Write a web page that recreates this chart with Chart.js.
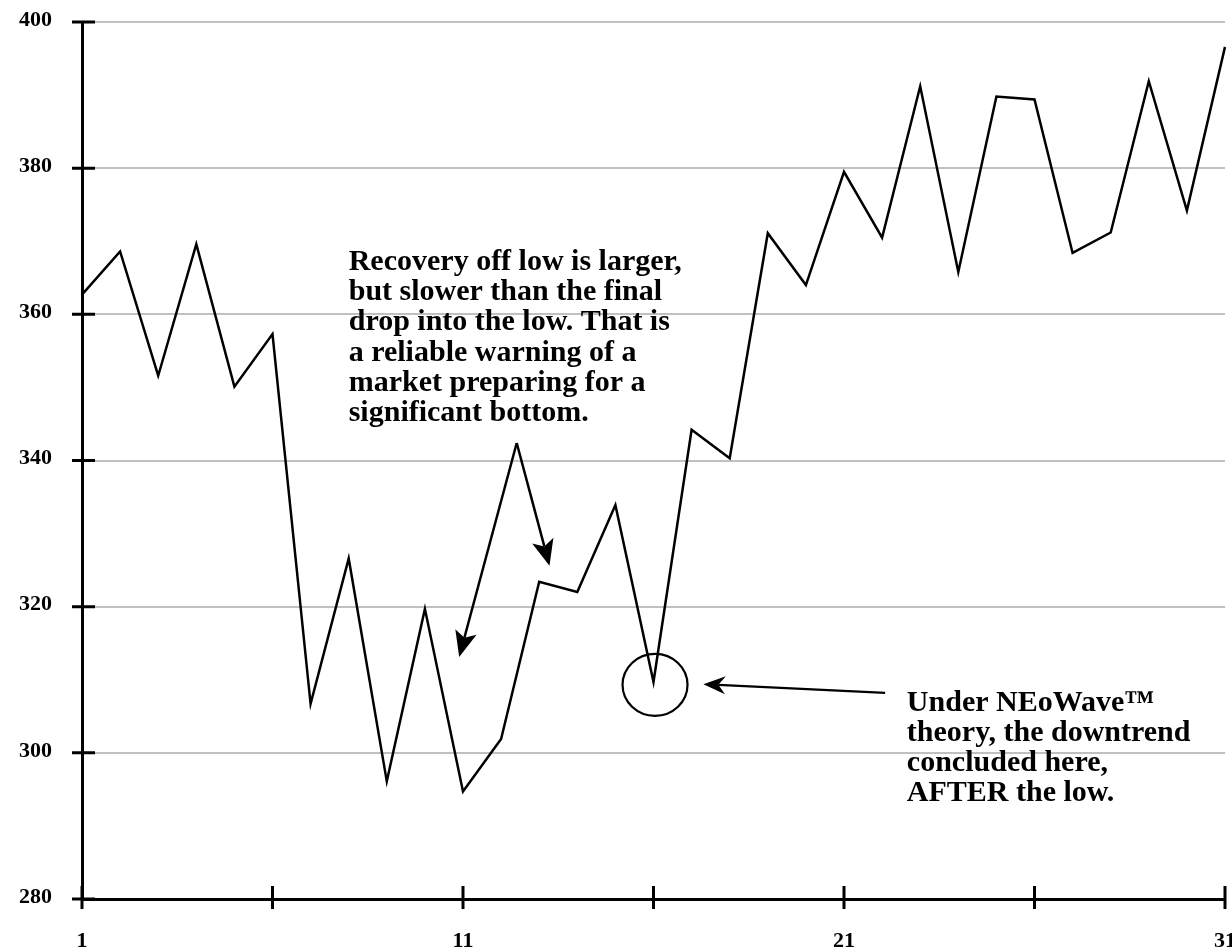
<!DOCTYPE html>
<html>
<head>
<meta charset="utf-8">
<title>NEoWave bottom</title>
<script src="https://cdn.jsdelivr.net/npm/chart.js@4.4.1/dist/chart.umd.min.js"></script>
<style>
  html, body { margin: 0; padding: 0; background: #fff; overflow: hidden; }
  /* a bit wider than the window so the "31" label gets clipped like the original */
  #wrap { position: relative; width: 1250px; height: 951px; }
</style>
</head>
<body>
<div id="wrap"><canvas id="waveChart"></canvas></div>
<script>
// Data
const days = ['1', '2', '3', '4', '5', '6', '7', '8', '9', '10',
              '11', '12', '13', '14', '15', '16', '17', '18', '19', '20',
              '21', '22', '23', '24', '25', '26', '27', '28', '29', '30', '31'];
const closes = [362.7, 368.6, 351.6, 369.6, 350.1, 357.3, 306.7, 326.6, 296.1, 319.7,
                294.7, 301.9, 323.4, 322.0, 333.9, 309.7, 344.2, 340.3, 371.1, 364.0,
                379.5, 370.5, 391.2, 365.8, 389.8, 389.4, 368.4, 371.2, 391.9, 374.2, 396.6];
const xLabelDays = ['1', '11', '21', '31'];
const xTickDays = ['1', '6', '11', '16', '21', '26', '31'];
const yTickValues = [280, 300, 320, 340, 360, 380, 400];

const noteRecovery = ['Recovery off low is larger,', 'but slower than the final',
                      'drop into the low. That is', 'a reliable warning of a',
                      'market preparing for a', 'significant bottom.'];
const noteNeowave = ['Under NEoWave\u2122', 'theory, the downtrend', 'concluded here,', 'AFTER the low.'];

const serif = 'Liberation Serif, Times New Roman, serif';

// Annotation anchors, in data units (x = day index, y = price)
const recoveryAt = { x: 7.0, y: 366.1 };
const neowaveAt = { x: 21.65, y: 305.75 };
const splitAt = { x: 11.41, y: 342.4 };
const leftTip = { x: 9.90, y: 313.1 };
const rightTip = { x: 12.27, y: 325.6 };
const lowFrom = { x: 21.08, y: 308.2 };
const lowTip = { x: 16.31, y: 309.4 };
const circleAt = { x: 15.04, y: 309.3 };

function arrow(ctx, from, to, len, half, notch) {
    const dx = to[0] - from[0], dy = to[1] - from[1];
    const d = Math.hypot(dx, dy);
    const ux = dx / d, uy = dy / d;
    const bx = to[0] - ux * len, by = to[1] - uy * len;
    const nx = to[0] - ux * (len - notch), ny = to[1] - uy * (len - notch);
    ctx.beginPath();
    ctx.moveTo(from[0], from[1]);
    ctx.lineTo(nx, ny);
    ctx.stroke();
    ctx.beginPath();
    ctx.moveTo(to[0], to[1]);
    ctx.lineTo(bx - uy * half, by + ux * half);
    ctx.lineTo(nx, ny);
    ctx.lineTo(bx + uy * half, by - ux * half);
    ctx.closePath();
    ctx.fill();
}

// Tick marks that cross the axis lines
const crossTicks = {
    id: 'crossTicks',
    afterDatasetsDraw(chart) {
        const { ctx, chartArea, scales: { x, y } } = chart;
        ctx.save();
        ctx.strokeStyle = '#000';
        ctx.lineWidth = 3;
        ctx.beginPath();
        yTickValues.forEach(v => {
            const py = y.getPixelForValue(v);
            ctx.moveTo(chartArea.left - 10, py);
            ctx.lineTo(chartArea.left + 13, py);
        });
        xTickDays.forEach(d => {
            const px = x.getPixelForValue(days.indexOf(d));
            ctx.moveTo(px, chartArea.bottom - 13);
            ctx.lineTo(px, chartArea.bottom + 10);
        });
        ctx.stroke();
        ctx.restore();
    }
};

// Notes, arrows and the circle round the post-low point
const notes = {
    id: 'notes',
    afterDatasetsDraw(chart) {
        const { ctx, scales: { x, y } } = chart;
        const at = p => [x.getPixelForValue(p.x), y.getPixelForValue(p.y)];
        ctx.save();
        ctx.fillStyle = '#000';
        ctx.strokeStyle = '#000';
        ctx.font = 'bold 30px ' + serif;
        ctx.textBaseline = 'alphabetic';
        ctx.textAlign = 'left';

        let [tx, ty] = at(recoveryAt);
        noteRecovery.forEach((line, i) => ctx.fillText(line, tx, ty + i * 30.3));
        [tx, ty] = at(neowaveAt);
        noteNeowave.forEach((line, i) => ctx.fillText(line, tx, ty + i * 30));

        ctx.lineWidth = 2.5;
        arrow(ctx, at(splitAt), at(leftTip), 26, 11, 6);
        arrow(ctx, at(splitAt), at(rightTip), 26, 11, 6);
        ctx.lineWidth = 2.2;
        arrow(ctx, at(lowFrom), at(lowTip), 22, 9, 7);

        const [cx, cy] = at(circleAt);
        ctx.lineWidth = 2.2;
        ctx.beginPath();
        ctx.ellipse(cx, cy, 32.5, 31, 0, 0, Math.PI * 2);
        ctx.stroke();
        ctx.restore();
    }
};

const ctx = document.getElementById('waveChart').getContext('2d');
const waveChart = new Chart(ctx, {
    type: 'line',
    data: {
        labels: days,
        datasets: [{
            data: closes,
            borderColor: '#000',
            borderWidth: 2.5,
            pointRadius: 0,
            tension: 0,
            fill: false
        }]
    },
    options: {
        responsive: true,
        maintainAspectRatio: false,
        animation: false,
        layout: { padding: { top: 22, right: 25, left: 0, bottom: 0 } },
        plugins: {
            legend: { display: false },
            tooltip: { enabled: false }
        },
        scales: {
            x: {
                type: 'category',
                offset: false,
                afterFit: scale => {
                    scale.height = 52;
                    scale.paddingLeft = 0;
                    scale.paddingRight = 0;
                },
                grid: { display: false, drawTicks: false },
                border: { display: true, color: '#000', width: 3 },
                ticks: {
                    autoSkip: false,
                    maxRotation: 0,
                    padding: 29,
                    color: '#000',
                    font: { family: serif, size: 22, weight: 'bold' },
                    callback: (val, i) => xLabelDays.includes(days[i]) ? days[i] : ''
                }
            },
            y: {
                min: 280,
                max: 400,
                afterFit: scale => {
                    scale.width = 82;
                    scale.paddingTop = 0;
                    scale.paddingBottom = 0;
                },
                grid: { color: '#c0c0c0', lineWidth: 2, drawTicks: false },
                border: { display: true, color: '#000', width: 3 },
                ticks: {
                    stepSize: 20,
                    padding: 30,
                    labelOffset: -2,
                    color: '#000',
                    font: { family: serif, size: 22, weight: 'bold' }
                }
            }
        }
    },
    plugins: [crossTicks, notes]
});
</script>
</body>
</html>
